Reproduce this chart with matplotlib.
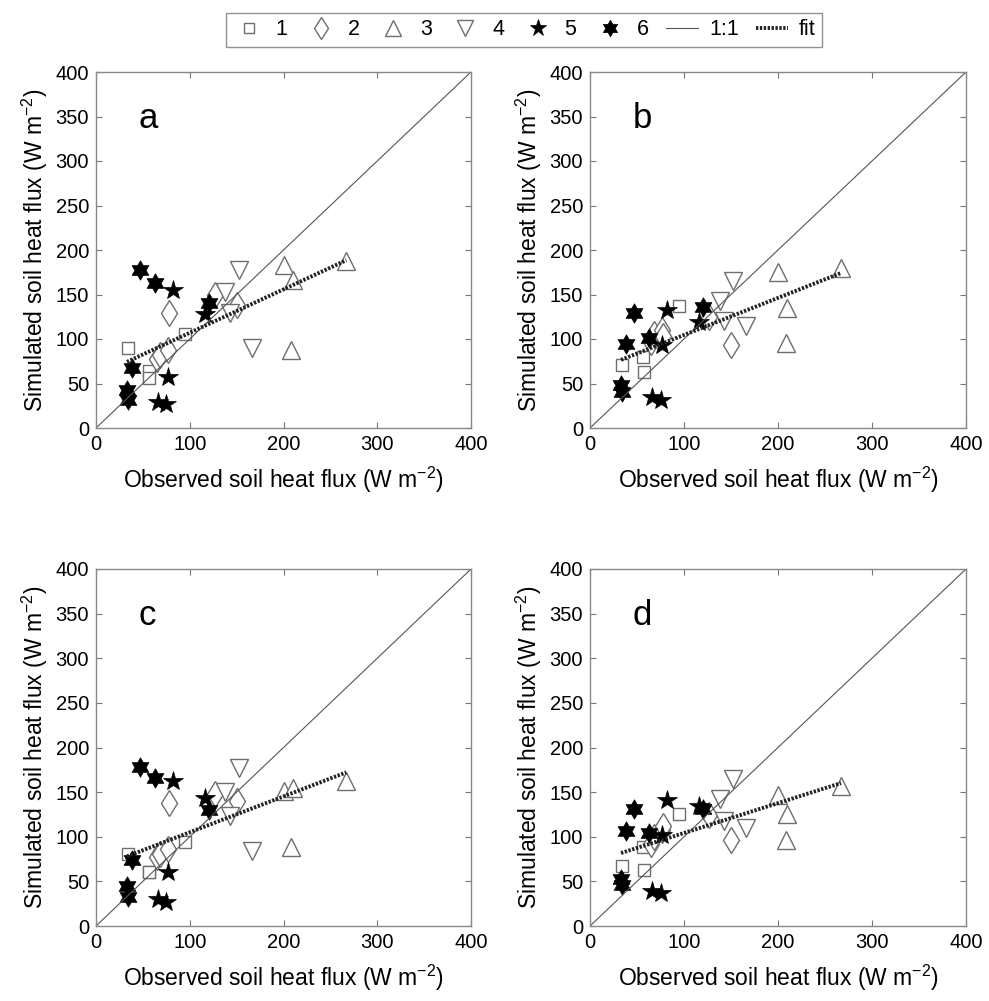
import matplotlib
matplotlib.use('Agg')
import matplotlib.pyplot as plt
import numpy as np
from matplotlib.path import Path

plt.rcParams['font.family'] = ['Liberation Sans', 'DejaVu Sans']
plt.rcParams['mathtext.default'] = 'regular'

# observed values, same for every panel (series 1..6)
obs1 = [34.5, 56, 57, 95]
obs2 = [65, 68, 77, 78, 127, 150]
obs3 = [200, 208, 210, 267]
obs4 = [138, 143, 152, 166]
obs5 = [66, 75, 77, 82, 116]
obs6 = [33, 34.5, 38, 47, 63, 120]

# simulated values, panel a
sim_a1 = [89.5, 64, 56.5, 105.6]
sim_a2 = [78, 82, 87.6, 129.6, 149.4, 138]
sim_a3 = [183, 88, 166, 188]
sim_a4 = [153, 129, 177, 89.5]
sim_a5 = [29, 27, 57.6, 155, 128]
sim_a6 = [42.7, 31.5, 67, 177.5, 162.6, 140]

# panel b
sim_b1 = [70.8, 80, 63.3, 137.4]
sim_b2 = [97, 106, 110, 103, 125, 93]
sim_b3 = [175.6, 95, 135, 179.4]
sim_b4 = [143, 120, 165, 115]
sim_b5 = [35.2, 31.5, 93.3, 132.6, 119.4]
sim_b6 = [48.3, 40.8, 94.4, 129, 100.8, 136.3]

# panel c
sim_c1 = [81.2, 60, 61, 93.6]
sim_c2 = [77, 80.8, 86, 137.4, 148, 139.7]
sim_c3 = [151.7, 88, 155, 163]
sim_c4 = [150.6, 123.6, 177, 84.3]
sim_c5 = [30, 27, 60, 162, 143]
sim_c6 = [45, 33, 74.2, 178.7, 165.5, 130]

# panel d
sim_d1 = [67, 88.4, 63, 125]
sim_d2 = [92, 100, 108, 112, 124, 95.8]
sim_d3 = [147, 96, 125, 157]
sim_d4 = [142, 118, 165, 110]
sim_d5 = [39.7, 36.7, 101.5, 140.8, 134.5]
sim_d6 = [52.8, 46, 107, 131.5, 104.5, 131.5]

# regression lines (slope, intercept) per panel
fit_slope = [0.488, 0.417, 0.402, 0.335]
fit_icept = [58.2, 62.8, 64.8, 70.7]

panel_letters = ['a', 'b', 'c', 'd']
series_labels = ['1', '2', '3', '4', '5', '6']

sims = [
    [sim_a1, sim_a2, sim_a3, sim_a4, sim_a5, sim_a6],
    [sim_b1, sim_b2, sim_b3, sim_b4, sim_b5, sim_b6],
    [sim_c1, sim_c2, sim_c3, sim_c4, sim_c5, sim_c6],
    [sim_d1, sim_d2, sim_d3, sim_d4, sim_d5, sim_d6],
]
obs = [obs1, obs2, obs3, obs4, obs5, obs6]

hexagram = Path.unit_regular_star(6, 0.577)
gray = '#6e6e6e'
styles = [
    dict(marker='s', ms=8.5, mfc='white', mec=gray, mew=1.0),
    dict(marker='d', ms=13, mfc='white', mec=gray, mew=1.0),
    dict(marker='^', ms=13, mfc='white', mec=gray, mew=1.0),
    dict(marker='v', ms=13, mfc='white', mec=gray, mew=1.0),
    dict(marker='*', ms=15, mfc='black', mec='black', mew=0.5),
    dict(marker=hexagram, ms=14, mfc='black', mec='black', mew=0.5),
]

fig = plt.figure(figsize=(9.89, 10.01), dpi=100)
W, H = 989.0, 1001.0
boxes = [(96, 72, 471, 428), (590, 72, 966, 428),
         (96, 569, 471, 926), (590, 569, 966, 926)]

all_obs = np.concatenate([np.array(o, float) for o in obs])
xmin, xmax = all_obs.min(), all_obs.max()

handles = []
for k, (l, t, r, b) in enumerate(boxes):
    ax = fig.add_axes([l / W, 1 - b / H, (r - l) / W, (b - t) / H])
    for i in range(6):
        h, = ax.plot(obs[i], sims[k][i], ls='none', label=series_labels[i], **styles[i])
        if k == 0:
            handles.append(h)
    h1, = ax.plot([0, 400], [0, 400], color='#555555', lw=0.8, label='1:1')
    xf = np.array([xmin, xmax])
    h2, = ax.plot(xf, fit_slope[k] * xf + fit_icept[k], color='#222222', lw=2.8,
                  ls=(0, (0.6, 0.4)), label='fit')
    if k == 0:
        handles += [h1, h2]
    ax.set_xlim(0, 400)
    ax.set_ylim(0, 400)
    ax.set_xticks(range(0, 401, 100))
    ax.set_yticks(range(0, 401, 50))
    ax.tick_params(direction='in', top=True, right=True, labelsize=14.5,
                   length=4, color='#777777', pad=5)
    for s in ax.spines.values():
        s.set_color('#888888')
        s.set_linewidth(1.0)
    ax.set_xlabel('Observed soil heat flux (W m$^{-2}$)', fontsize=16.5, labelpad=8)
    ax.set_ylabel('Simulated soil heat flux (W m$^{-2}$)', fontsize=16.5, labelpad=4)
    ax.text(45, 348, panel_letters[k], fontsize=25, va='center', ha='left')

leg = fig.legend(handles=handles, loc='upper center', bbox_to_anchor=(0.53, 0.998),
                 ncol=8, fontsize=15.5, frameon=True, fancybox=False,
                 handlelength=1.5, handletextpad=0.5, columnspacing=0.8,
                 borderpad=0.3, markerscale=0.85)
leg.get_frame().set_edgecolor('#777777')
leg.get_frame().set_linewidth(1.0)

fig.savefig('out.png', dpi=100)
